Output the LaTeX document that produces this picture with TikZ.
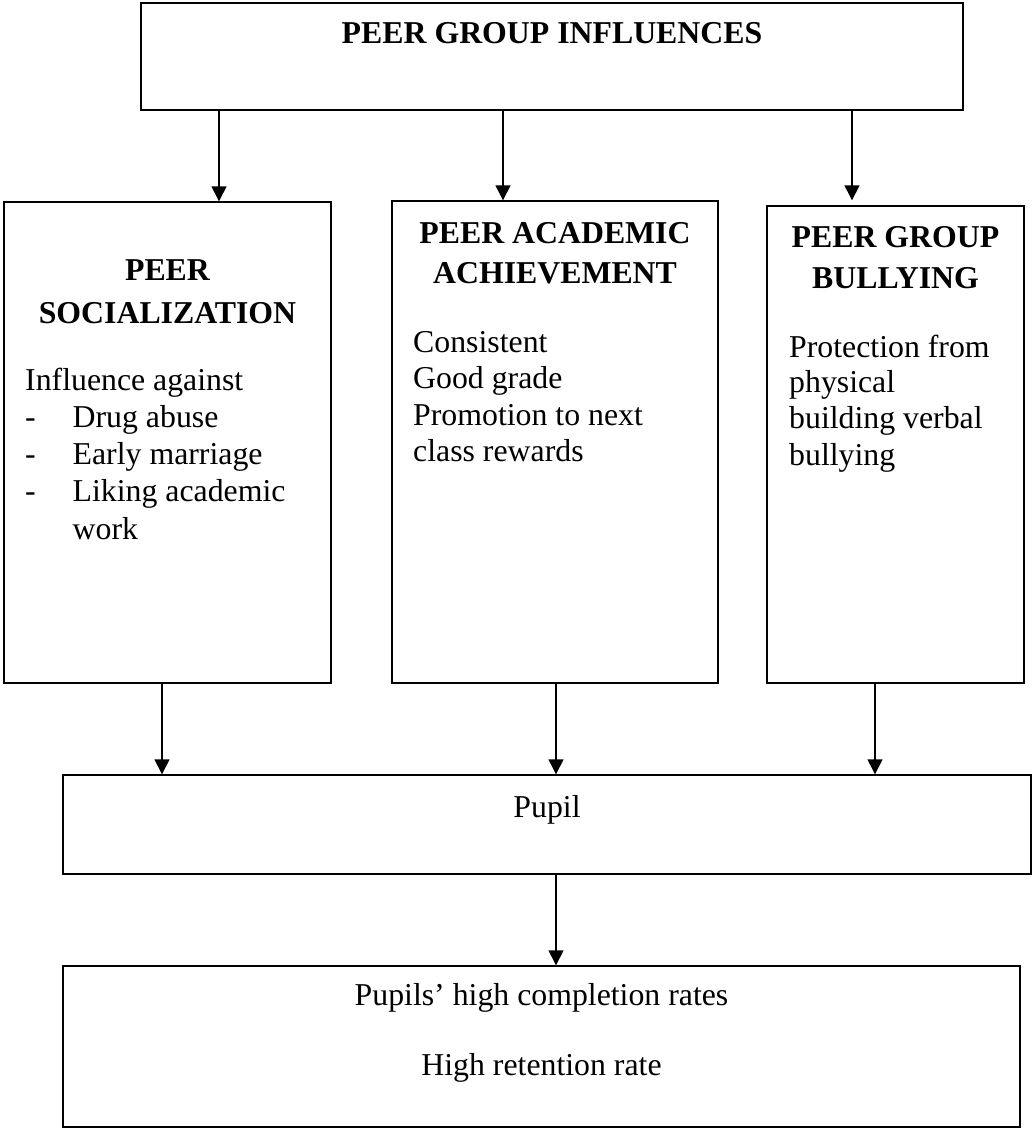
\documentclass[tikz,border=0pt]{standalone}
\usepackage{fontspec}
\setmainfont{Liberation Serif}
\usetikzlibrary{arrows.meta}
\begin{document}
\begin{tikzpicture}[x=1pt,y=-1pt,
  box/.style={draw, line width=1.4pt, inner sep=0pt},
  txt/.style={font=\fontsize{31.8}{38}\selectfont, inner sep=0pt},
  ttl/.style={font=\fontsize{31.8}{38}\selectfont\bfseries, inner sep=0pt},
  arr/.style={line width=1.4pt, -{Triangle[length=15pt,width=15pt]}}]
\useasboundingbox (0,0) rectangle (1033,1129);
% boxes
\node[box, minimum width=822pt, minimum height=107pt] (top) at (552,56.5) {};
\node[box, minimum width=327pt, minimum height=481pt] (soc) at (167.5,442.5) {};
\node[box, minimum width=326pt, minimum height=482pt] (aca) at (555,442) {};
\node[box, minimum width=257pt, minimum height=477pt] (bul) at (895.5,444.5) {};
\node[box, minimum width=968pt, minimum height=99pt] (pup) at (547,824.5) {};
\node[box, minimum width=957pt, minimum height=161pt] (res) at (541.5,1046.5) {};
% arrow columns
\coordinate (c1) at (219,0);
\coordinate (c2) at (503,0);
\coordinate (c3) at (852,0);
\coordinate (d1) at (162,0);
\coordinate (d2) at (556,0);
\coordinate (d3) at (875,0);
\draw[arr] (top.south -| c1) -- (soc.north -| c1);
\draw[arr] (top.south -| c2) -- (aca.north -| c2);
\draw[arr, shorten >=5pt] (top.south -| c3) -- (bul.north -| c3);
\draw[arr] (soc.south -| d1) -- (pup.north -| d1);
\draw[arr] (aca.south -| d2) -- (pup.north -| d2);
\draw[arr] (bul.south -| d3) -- (pup.north -| d3);
\draw[arr] (pup.south -| d2) -- (res.north -| d2);
% texts
\node[ttl, anchor=base] (t0) at (552,44) {PEER GROUP INFLUENCES};
\node[ttl, anchor=base] (s1) at (167.5,280) {PEER};
\node[ttl, anchor=base] (s2) at (167.5,323) {SOCIALIZATION};
\node[txt, anchor=base west] (s3) at (25,390) {Influence against};
\node[txt, anchor=base west] (s4a) at (25,427.5) {-};
\node[txt, anchor=base west] (s4) at (72.5,427.5) {Drug abuse};
\node[txt, anchor=base west] (s5a) at (25,464.5) {-};
\node[txt, anchor=base west] (s5) at (72.5,464.5) {Early marriage};
\node[txt, anchor=base west] (s6a) at (25,501.5) {-};
\node[txt, anchor=base west] (s6) at (72.5,501.5) {Liking academic};
\node[txt, anchor=base west] (s7) at (72.5,539) {work};
\node[ttl, anchor=base] (a1) at (555,243) {PEER ACADEMIC};
\node[ttl, anchor=base] (a2) at (555,283) {ACHIEVEMENT};
\node[txt, anchor=base west] (a3) at (413,352) {Consistent};
\node[txt, anchor=base west] (a4) at (413,388) {Good grade};
\node[txt, anchor=base west] (a5) at (413,425) {Promotion to next};
\node[txt, anchor=base west] (a6) at (413,461.5) {class rewards};
\node[ttl, anchor=base] (b1) at (895.5,247) {PEER GROUP};
\node[ttl, anchor=base] (b2) at (895.5,288) {BULLYING};
\node[txt, anchor=base west] (b3) at (789,357) {Protection from};
\node[txt, anchor=base west] (b4) at (789,392) {physical};
\node[txt, anchor=base west] (b5) at (789,428) {building verbal};
\node[txt, anchor=base west] (b6) at (789,465) {bullying};
\node[txt, anchor=base] (p1) at (547,817) {Pupil};
\node[txt, anchor=base] (r1) at (541.5,1005) {Pupils’ high completion rates};
\node[txt, anchor=base] (r2) at (541.5,1075) {High retention rate};
\end{tikzpicture}
\end{document}
